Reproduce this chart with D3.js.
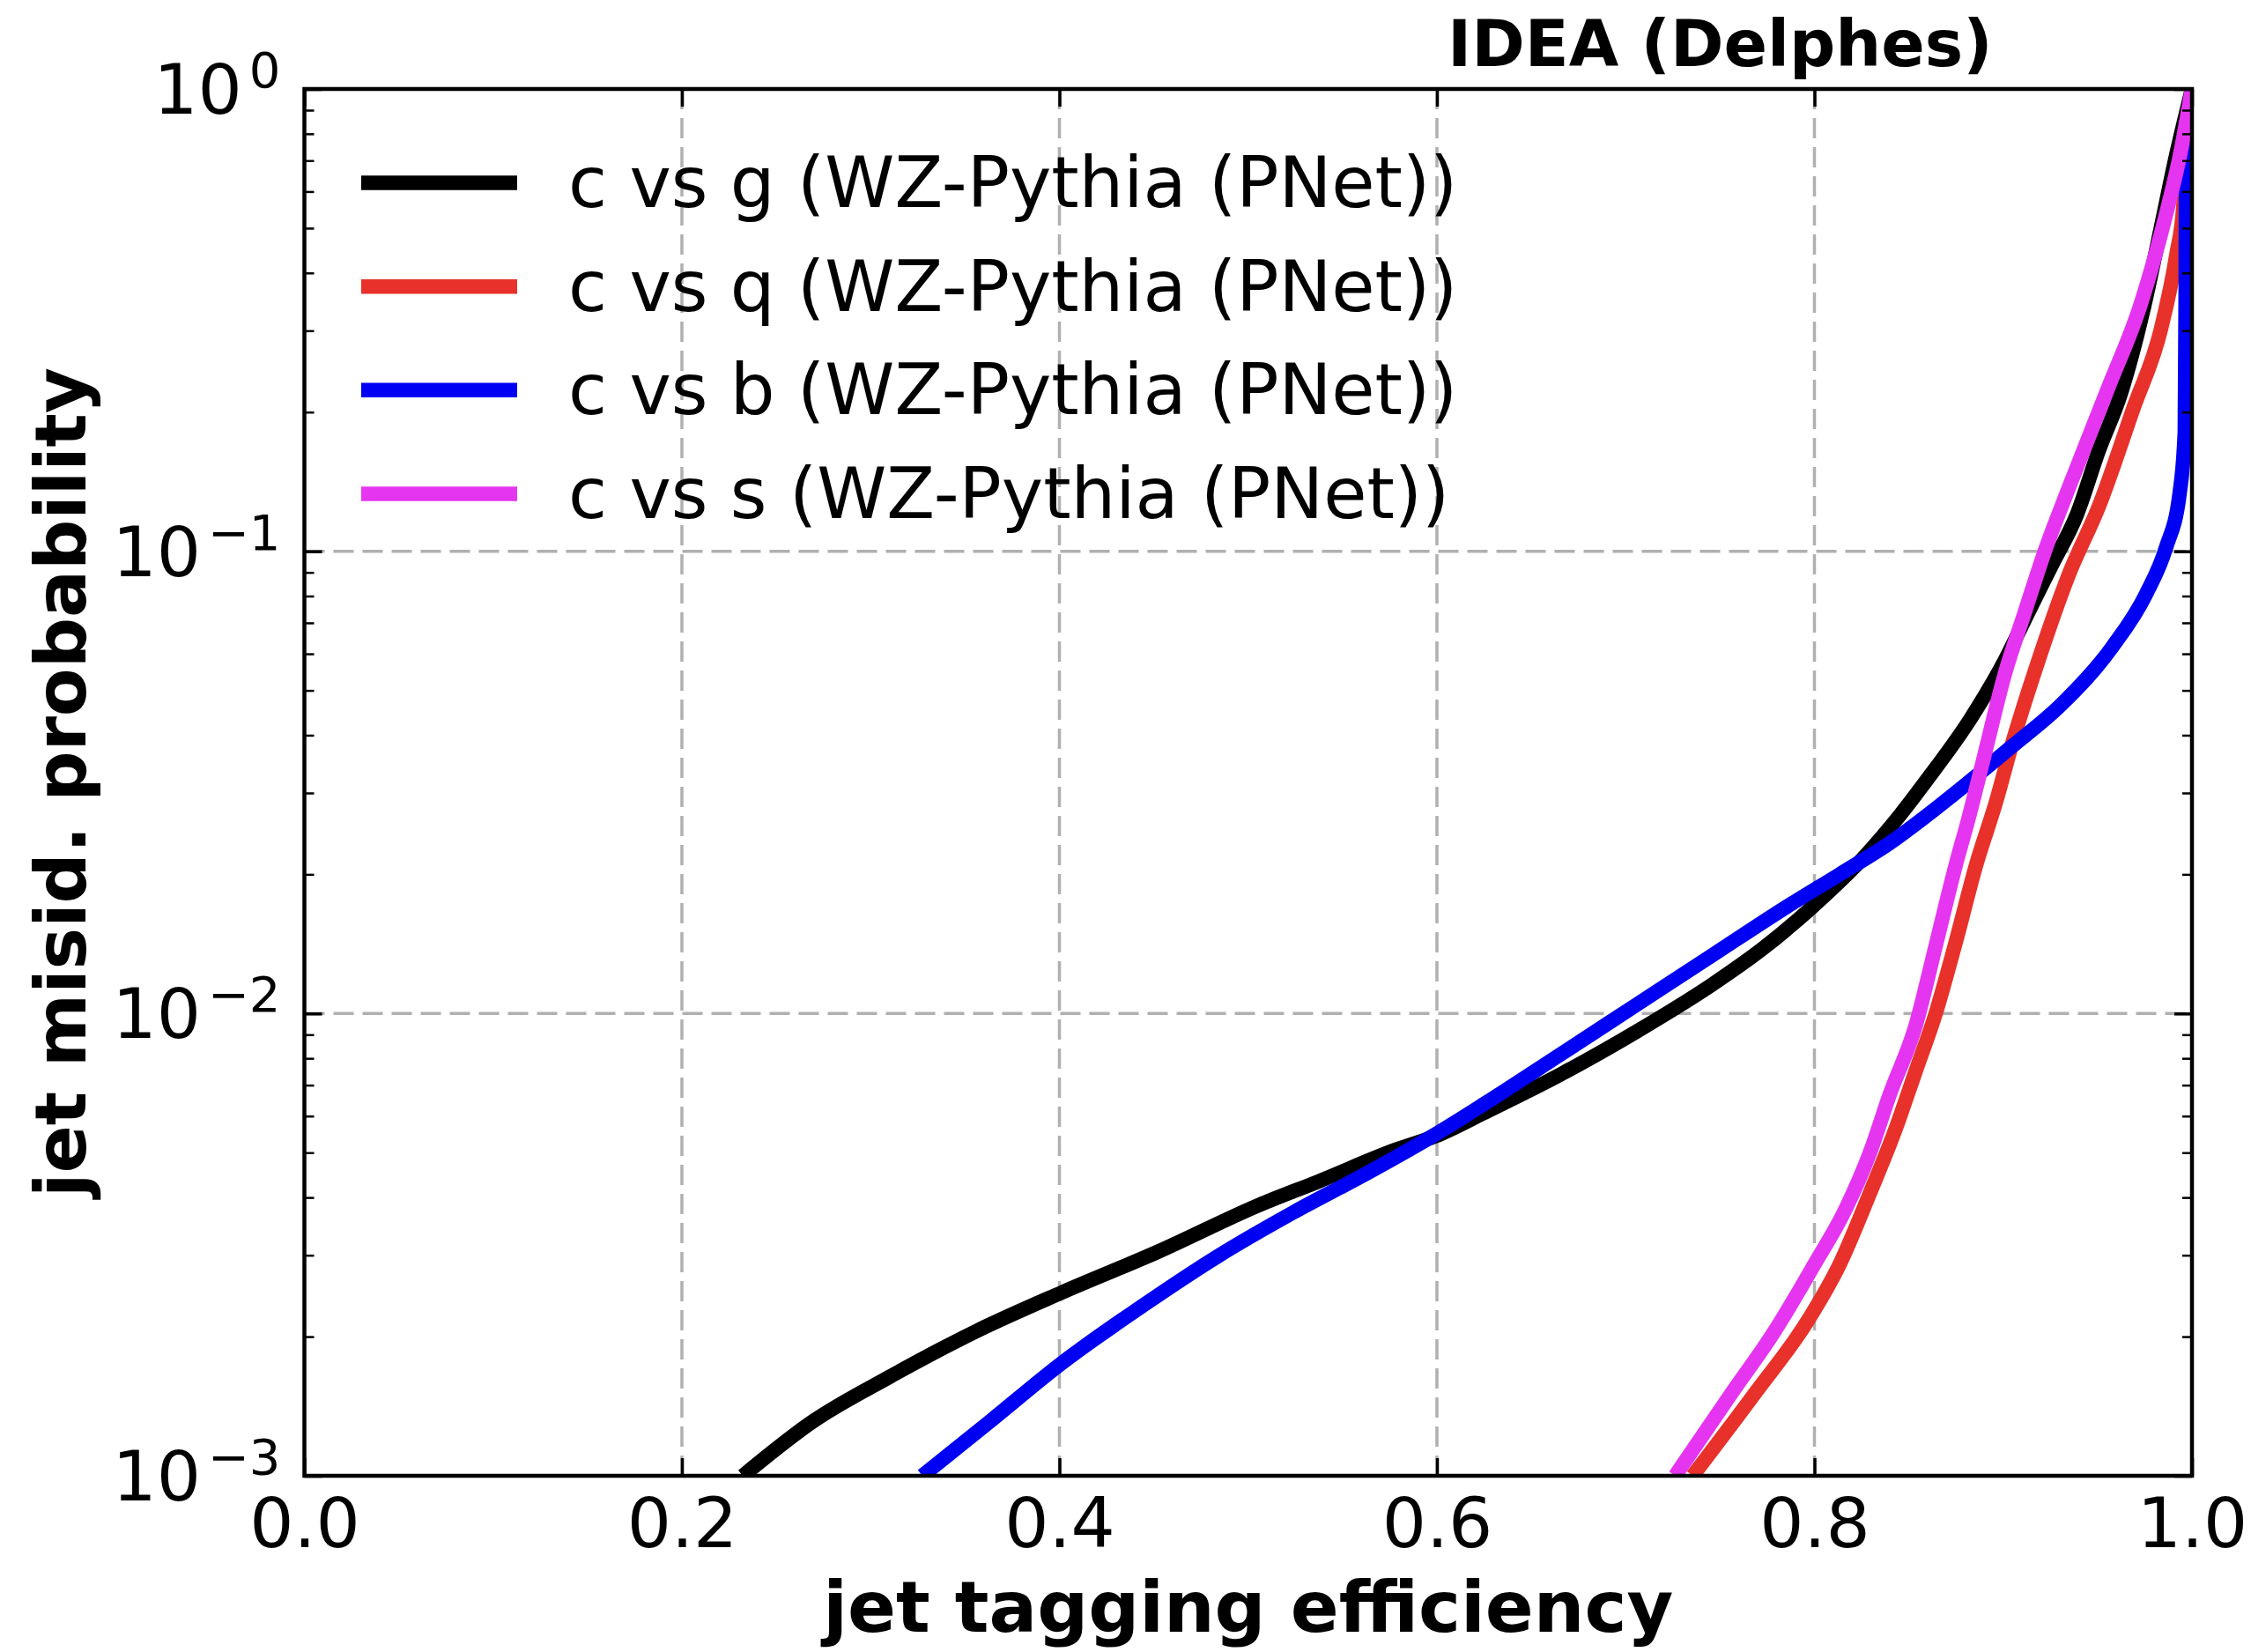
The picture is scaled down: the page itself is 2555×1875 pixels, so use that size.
<!DOCTYPE html>
<html>
<head>
<meta charset="utf-8">
<script src="https://cdn.jsdelivr.net/npm/d3@7"></script>
<style>
  html, body { margin: 0; padding: 0; background: #ffffff; }
  svg { display: block; font-family: "DejaVu Sans", sans-serif; }
</style>
</head>
<body>
<svg id="chart" width="2555" height="1875"></svg>
<script>
// ROC curves: charm-jet tagging efficiency vs. background mis-identification

// c vs g
const effCg = [0.2323, 0.2698, 0.310, 0.3555, 0.401, 0.452, 0.5056, 0.5377, 0.578, 0.5993,
  0.6257, 0.6659, 0.7061, 0.7463, 0.7731, 0.7998, 0.8267, 0.8454, 0.8595, 0.8828, 0.9006,
  0.9131, 0.9256, 0.939, 0.9506, 0.9624, 0.974, 0.9835, 0.991, 1.0];
const misCg = [0.00100, 0.001315, 0.001637, 0.002051, 0.002489, 0.00305, 0.00385, 0.00434, 0.00507, 0.00543,
  0.00612, 0.00740, 0.00916, 0.01159, 0.01387, 0.01714, 0.0219, 0.0269, 0.0320, 0.0435, 0.0578,
  0.0735, 0.0931, 0.120, 0.165, 0.220, 0.330, 0.500, 0.700, 1.0];

// c vs q
const effCq = [0.7355, 0.7677, 0.7972, 0.8132, 0.8294, 0.8428, 0.8535, 0.8642, 0.8749, 0.8857, 0.8963,
  0.9042, 0.9185, 0.9346, 0.951, 0.969, 0.9837, 0.9917, 0.9955, 0.9968, 1.0];
const misCq = [0.00100, 0.001493, 0.00219, 0.00286, 0.00409, 0.00560, 0.00748, 0.0100, 0.0143, 0.0210, 0.0288,
  0.0377, 0.0578, 0.0887, 0.126, 0.204, 0.304, 0.437, 0.562, 0.711, 1.0];

// c vs b
const effCb = [0.3274, 0.3636, 0.401, 0.4439, 0.4842, 0.5243, 0.5645, 0.5993, 0.6257, 0.6659, 0.7061,
  0.7463, 0.7865, 0.8133, 0.840, 0.8669, 0.9042, 0.931, 0.9578, 0.9756, 0.9863, 0.9934,
  0.9962, 0.9967, 0.9968, 1.0];
const misCb = [0.00100, 0.001315, 0.00175, 0.00233, 0.00299, 0.00372, 0.00455, 0.00548, 0.00640, 0.00818, 0.01047,
  0.0134, 0.01714, 0.0200, 0.0234, 0.0283, 0.0377, 0.0467, 0.0621, 0.0807, 0.102, 0.133,
  0.181, 0.388, 0.60, 1.0];

// c vs s
const effCs = [0.7262, 0.757, 0.7784, 0.7998, 0.816, 0.8294, 0.840, 0.8535, 0.8642, 0.8749, 0.8815,
  0.8899, 0.9006, 0.9113, 0.922, 0.935, 0.9555, 0.973, 0.9855, 0.9940, 1.0];
const misCs = [0.00100, 0.001528, 0.00204, 0.00286, 0.00374, 0.00500, 0.00670, 0.00938, 0.0140, 0.0210, 0.0263,
  0.0360, 0.0538, 0.0735, 0.100, 0.138, 0.225, 0.344, 0.521, 0.731, 1.0];

const seriesNames = [
  "c vs g (WZ-Pythia (PNet))",
  "c vs q (WZ-Pythia (PNet))",
  "c vs b (WZ-Pythia (PNet))",
  "c vs s (WZ-Pythia (PNet))"
];
const seriesColors = ["#000000", "#e8312a", "#0000f2", "#e535f0"];

const xTicks = [0.0, 0.2, 0.4, 0.6, 0.8, 1.0];
const yTicks = [1e-3, 1e-2, 1e-1, 1];
const yExponents = ["\u22123", "\u22122", "\u22121", "0"];

const titleText = "IDEA (Delphes)";
const xLabelText = "jet tagging efficiency";
const yLabelText = "jet misid. probability";

// ---- layout ----
const W = 2555, H = 1875;
const plot = { left: 345.5, right: 2488, top: 101, bottom: 1675 };

const svg = d3.select("#chart");
svg.append("rect").attr("width", W).attr("height", H).attr("fill", "#ffffff");

const x = d3.scaleLinear().domain([0, 1]).range([plot.left, plot.right]);
const y = d3.scaleLog().domain([1e-3, 1]).range([plot.bottom, plot.top]);

const minorY = [];
for (let e = -3; e < 0; e++) {
  for (let m = 2; m <= 9; m++) minorY.push(m * Math.pow(10, e));
}

// ---- grid ----
const grid = svg.append("g").attr("class", "grid")
  .attr("stroke", "#b0b0b0").attr("stroke-width", 3.5).attr("stroke-dasharray", "23,10");
grid.selectAll("line.gx").data(xTicks.slice(1, -1)).join("line")
  .attr("x1", d => x(d)).attr("x2", d => x(d))
  .attr("y1", plot.top).attr("y2", plot.bottom);
grid.selectAll("line.gy").data(yTicks.slice(1, -1)).join("line")
  .attr("x1", plot.left).attr("x2", plot.right)
  .attr("y1", d => y(d)).attr("y2", d => y(d));

// ---- curves ----
svg.append("clipPath").attr("id", "plot-clip")
  .append("rect")
  .attr("x", plot.left).attr("y", plot.top)
  .attr("width", plot.right - plot.left).attr("height", plot.bottom - plot.top);

const series = [
  d3.zip(effCg, misCg),
  d3.zip(effCq, misCq),
  d3.zip(effCb, misCb),
  d3.zip(effCs, misCs)
];

const line = d3.line()
  .x(d => x(d[0]))
  .y(d => y(d[1]))
  .curve(d3.curveMonotoneX);

const curves = svg.append("g").attr("clip-path", "url(#plot-clip)");
series.forEach((pts, i) => {
  curves.append("path")
    .datum(pts)
    .attr("d", line)
    .attr("fill", "none")
    .attr("stroke", seriesColors[i])
    .attr("stroke-width", 16.5)
    .attr("stroke-linejoin", "round")
    .attr("stroke-linecap", "butt");
});

// ---- axes (ticks point inward on all four sides) ----
const tickW = 3.5, majorLen = 20, minorLen = 11;

function styleAxis(g) {
  g.select(".domain").remove();
  g.selectAll(".tick line").attr("stroke", "#000").attr("stroke-width", tickW);
  g.selectAll(".tick text").attr("fill", "#000").attr("font-family", "DejaVu Sans");
}

// bottom
const gxb = svg.append("g").attr("transform", `translate(0,${plot.bottom})`)
  .call(d3.axisBottom(x).tickValues(xTicks).tickFormat(d3.format(".1f"))
    .tickSizeInner(-majorLen).tickSizeOuter(0).tickPadding(25));
styleAxis(gxb);
gxb.selectAll(".tick text").attr("font-size", 79);

// top
const gxt = svg.append("g").attr("transform", `translate(0,${plot.top})`)
  .call(d3.axisTop(x).tickValues(xTicks).tickFormat("")
    .tickSizeInner(-majorLen).tickSizeOuter(0));
styleAxis(gxt);

// left (major + minor)
const gyl = svg.append("g").attr("transform", `translate(${plot.left},0)`)
  .call(d3.axisLeft(y).tickValues(yTicks).tickFormat("")
    .tickSizeInner(-majorLen).tickSizeOuter(0));
styleAxis(gyl);
const gylm = svg.append("g").attr("transform", `translate(${plot.left},0)`)
  .call(d3.axisLeft(y).tickValues(minorY).tickFormat("")
    .tickSizeInner(-minorLen).tickSizeOuter(0));
styleAxis(gylm);
gylm.selectAll(".tick line").attr("stroke-width", 2.5);

// right (major + minor)
const gyr = svg.append("g").attr("transform", `translate(${plot.right},0)`)
  .call(d3.axisRight(y).tickValues(yTicks).tickFormat("")
    .tickSizeInner(-majorLen).tickSizeOuter(0));
styleAxis(gyr);
const gyrm = svg.append("g").attr("transform", `translate(${plot.right},0)`)
  .call(d3.axisRight(y).tickValues(minorY).tickFormat("")
    .tickSizeInner(-minorLen).tickSizeOuter(0));
styleAxis(gyrm);
gyrm.selectAll(".tick line").attr("stroke-width", 2.5);

// y tick labels as powers of ten
const yLab = svg.append("g").attr("font-family", "DejaVu Sans").attr("fill", "#000");
yTicks.forEach((v, i) => {
  const t = yLab.append("text")
    .attr("x", plot.left - 27)
    .attr("y", y(v) + 28)
    .attr("text-anchor", "end")
    .attr("font-size", 79);
  t.append("tspan").text("10");
  t.append("tspan")
    .attr("dx", 8)
    .attr("dy", -30)
    .attr("font-size", 56)
    .text(yExponents[i]);
});

// spines
svg.append("rect")
  .attr("x", plot.left).attr("y", plot.top)
  .attr("width", plot.right - plot.left).attr("height", plot.bottom - plot.top)
  .attr("fill", "none").attr("stroke", "#000").attr("stroke-width", 4.5);

// ---- labels ----
svg.append("text")
  .attr("x", (plot.left + plot.right) / 2).attr("y", 1852)
  .attr("text-anchor", "middle")
  .attr("font-size", 81).attr("font-weight", "bold")
  .text(xLabelText);

svg.append("text")
  .attr("transform", `translate(97,${(plot.top + plot.bottom) / 2}) rotate(-90)`)
  .attr("text-anchor", "middle")
  .attr("font-size", 80).attr("font-weight", "bold")
  .text(yLabelText);

svg.append("text")
  .attr("x", x(0.75)).attr("y", 75)
  .attr("text-anchor", "middle")
  .attr("font-size", 73).attr("font-weight", "bold")
  .text(titleText);

// ---- legend ----
const legend = svg.append("g");
seriesNames.forEach((name, i) => {
  const cy = 207.6 + i * 117.6;
  legend.append("line")
    .attr("x1", 410).attr("x2", 587)
    .attr("y1", cy).attr("y2", cy)
    .attr("stroke", seriesColors[i]).attr("stroke-width", 16.5);
  legend.append("text")
    .attr("x", 645).attr("y", cy + 27.5)
    .attr("font-size", 80)
    .text(name);
});
</script>
</body>
</html>
